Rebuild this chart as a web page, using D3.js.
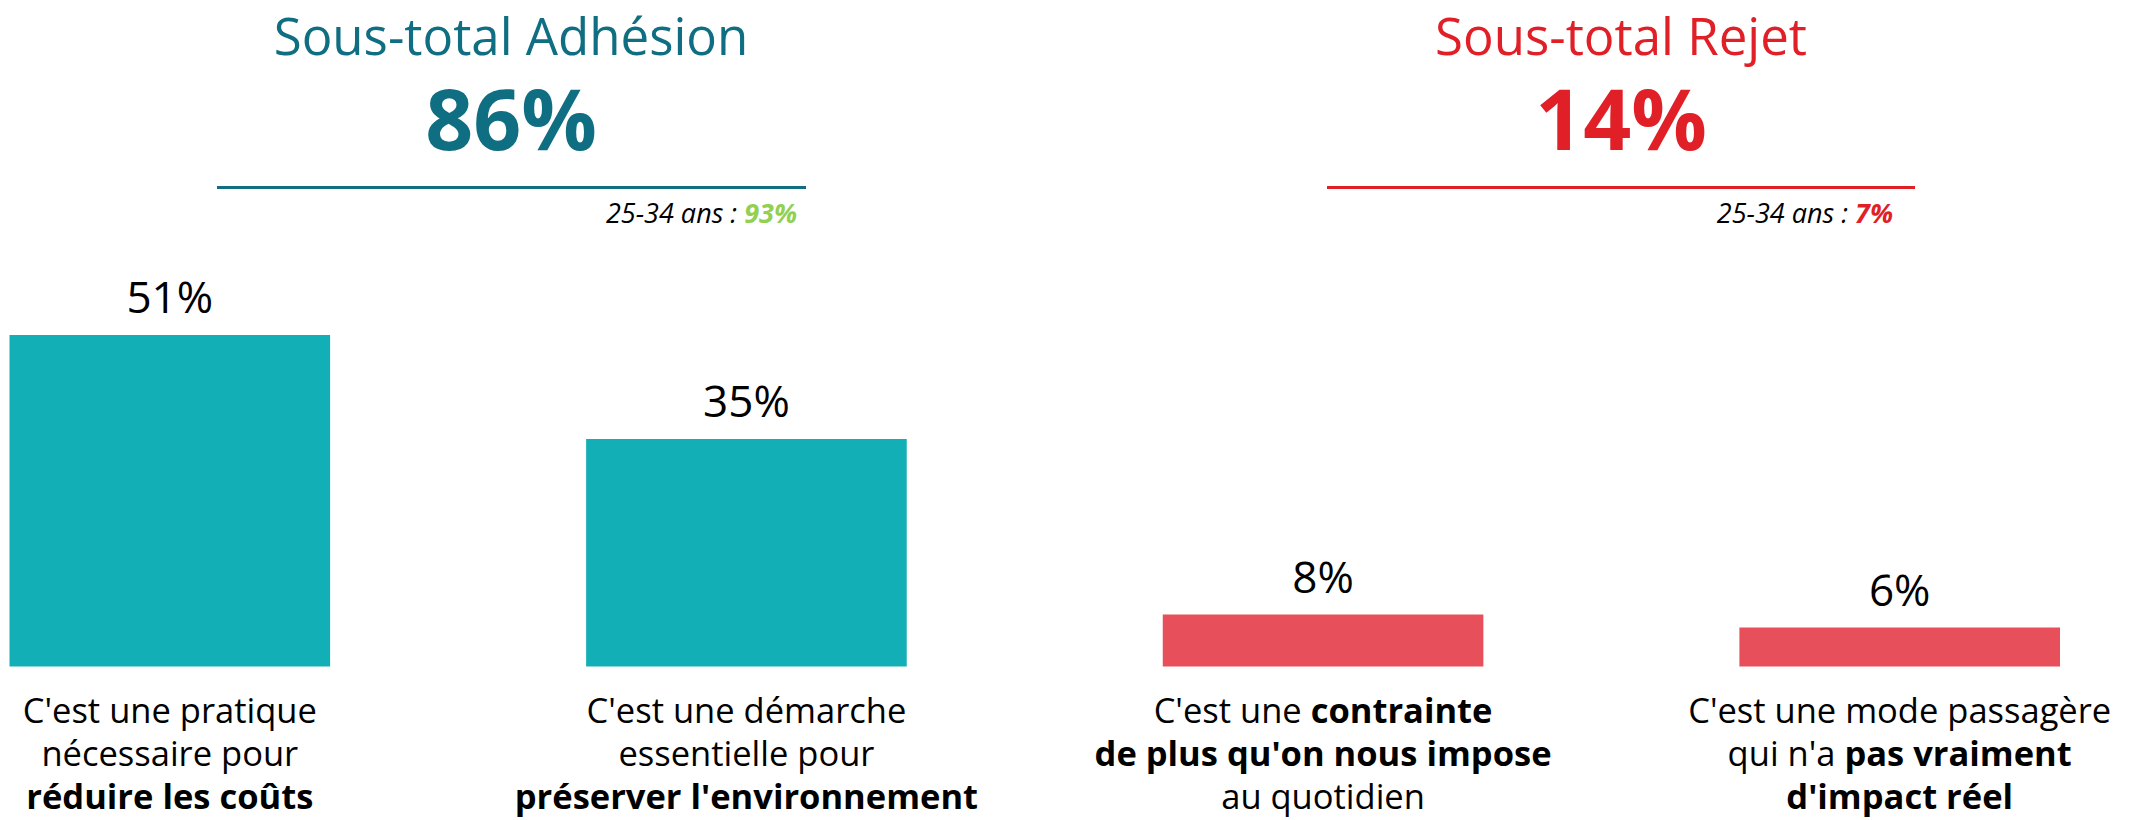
<!DOCTYPE html>
<html>
<head>
<meta charset="utf-8">
<script src="https://cdn.jsdelivr.net/npm/d3@7"></script>
<style>
  html, body { margin: 0; padding: 0; background: #fff; }
  #chart { width: 2136px; height: 820px; }
  text { font-family: "Open Sans", "Noto Sans", sans-serif; }
</style>
</head>
<body>
<div id="chart"></div>
<script>
// data
var categories = ["pratique", "demarche", "contrainte", "mode"];
var values = [51, 35, 8, 6];
var groups = ["adhesion", "adhesion", "rejet", "rejet"];

// label lines, each segment = [text, bold]
var labelLines = [
  [[["C'est une pratique", false]], [["nécessaire pour", false]], [["réduire les coûts", true]]],
  [[["C'est une démarche", false]], [["essentielle pour", false]], [["préserver l'environnement", true]]],
  [[["C'est une ", false], ["contrainte", true]], [["de plus qu'on nous impose", true]], [["au quotidien", false]]],
  [[["C'est une mode passagère", false]], [["qui n'a ", false], ["pas vraiment", true]], [["d'impact réel", true]]]
];

var subtotalTitles = ["Sous-total Adhésion", "Sous-total Rejet"];
var subtotalValues = ["86%", "14%"];
var subAgeLabel = "25-34 ans : ";
var subAgeValues = ["93%", "7%"];

var colors = {
  adhesion: { title: "#0f6e82", bar: "#13afb7", age: "#92d050" },
  rejet: { title: "#e01f27", bar: "#e7505a", age: "#e01f27" }
};

var width = 2136, height = 820;

var svg = d3.select("#chart")
  .append("svg")
  .attr("width", width)
  .attr("height", height);

var x = d3.scaleBand()
  .domain(categories)
  .range([9.5, 2060])
  .paddingInner(0.444)
  .paddingOuter(0);

var y = d3.scaleLinear()
  .domain([0, 51])
  .range([666.5, 335]);

// bars
svg.append("g")
  .selectAll("rect")
  .data(categories)
  .join("rect")
  .attr("x", function (d) { return x(d); })
  .attr("y", function (d, i) { return y(values[i]); })
  .attr("width", x.bandwidth())
  .attr("height", function (d, i) { return y(0) - y(values[i]); })
  .attr("fill", function (d, i) { return colors[groups[i]].bar; });

// value labels
svg.append("g")
  .selectAll("text")
  .data(categories)
  .join("text")
  .attr("x", function (d) { return x(d) + x.bandwidth() / 2; })
  .attr("y", function (d, i) { return y(values[i]) - 22; })
  .attr("text-anchor", "middle")
  .attr("font-size", 44)
  .attr("fill", "#000")
  .text(function (d, i) { return values[i] + "%"; });

// category labels
var lineY = [723, 766, 809];
categories.forEach(function (c, i) {
  var cx = x(c) + x.bandwidth() / 2;
  labelLines[i].forEach(function (line, j) {
    var t = svg.append("text")
      .attr("x", cx)
      .attr("y", lineY[j])
      .attr("text-anchor", "middle")
      .attr("font-size", 34.5)
      .attr("fill", "#000");
    line.forEach(function (seg) {
      t.append("tspan")
        .attr("font-weight", seg[1] ? "bold" : "normal")
        .text(seg[0]);
    });
  });
});

// subtotal headers
var headers = [
  { g: "adhesion", cx: 511, x0: 217, x1: 806, ageX: 797 },
  { g: "rejet", cx: 1621, x0: 1327, x1: 1915, ageX: 1893 }
];

headers.forEach(function (h, i) {
  var col = colors[h.g];
  svg.append("text")
    .attr("x", h.cx)
    .attr("y", 55)
    .attr("text-anchor", "middle")
    .attr("font-size", 51)
    .attr("fill", col.title)
    .text(subtotalTitles[i]);

  svg.append("text")
    .attr("x", h.cx)
    .attr("y", 150)
    .attr("text-anchor", "middle")
    .attr("font-size", 84)
    .attr("font-weight", "bold")
    .attr("fill", col.title)
    .text(subtotalValues[i]);

  svg.append("line")
    .attr("x1", h.x0)
    .attr("x2", h.x1)
    .attr("y1", 187.5)
    .attr("y2", 187.5)
    .attr("stroke", col.title)
    .attr("stroke-width", 3);

  var t = svg.append("text")
    .attr("x", h.ageX)
    .attr("y", 222.5)
    .attr("text-anchor", "end")
    .attr("font-size", 27)
    .attr("font-style", "italic")
    .attr("fill", "#000");
  t.append("tspan").text(subAgeLabel);
  t.append("tspan")
    .attr("font-weight", "bold")
    .attr("fill", col.age)
    .text(subAgeValues[i]);
});
</script>
</body>
</html>
